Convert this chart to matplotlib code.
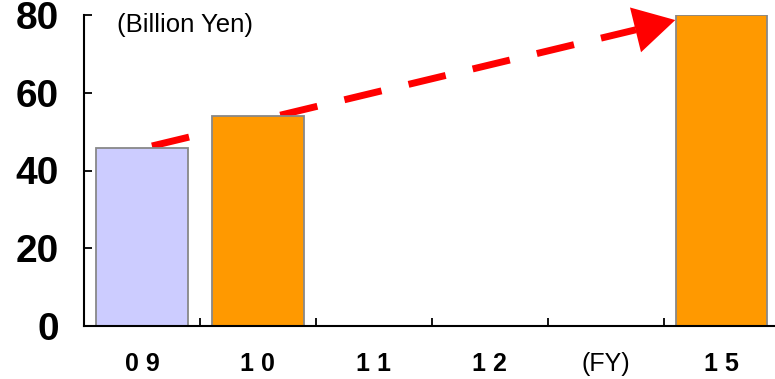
import numpy as np
import matplotlib.pyplot as plt

# data
categories = ['09', '10', '11', '12', '(FY)', '15']
values = [45.7, 54.0, 0, 0, 0, 80.0]
bar_colors = ['#ccccff', '#ff9900', 'none', 'none', 'none', '#ff9900']
yticks = [0, 20, 40, 60, 80]

fig = plt.figure(figsize=(7.75, 3.79), dpi=100)
ax = fig.add_axes([84 / 775, 53 / 379, 691 / 775, 311 / 379])

x = np.arange(len(categories))
for xi, v, c in zip(x, values, bar_colors):
    if v > 0:
        ax.bar(xi, v, width=0.79, color=c, edgecolor='#888888', linewidth=1.3, zorder=4)

ax.set_xlim(-0.5, 5.46)
ax.set_ylim(0, 80)

for s in ['top', 'right']:
    ax.spines[s].set_visible(False)
for s in ['left', 'bottom']:
    ax.spines[s].set_linewidth(1.5)
    ax.spines[s].set_zorder(5)

ax.set_yticks(yticks)
ax.set_yticklabels([str(t) for t in yticks], fontsize=28, fontweight='bold',
                   family='Liberation Sans')
ax.tick_params(axis='y', direction='in', length=6, width=1.3, pad=18)

ax.set_xticks(x)
labels = [' '.join(c) if c[0].isdigit() else c for c in categories]
ax.set_xticklabels(labels, family='Liberation Sans', fontsize=18)
for lab, c in zip(ax.get_xticklabels(), categories):
    if c[0].isdigit():
        lab.set_fontweight('bold')
ax.tick_params(axis='x', which='major', length=0, pad=19)
ax.set_xticks(x[:-1] + 0.5, minor=True)
ax.tick_params(axis='x', which='minor', direction='in', length=6, width=1.3)

ax.text(0.048, 0.968, '(Billion Yen)', transform=ax.transAxes, fontsize=18.5,
        family='Liberation Sans', va='center', ha='left')

# red dashed growth arrow from FY09 to FY15 (drawn behind the bars)
x0, y0 = x[0] + 0.086, values[0] + 0.6
x1, y1 = x[-1] - 0.40, values[-1] - 1.3
xb, yb = x[-1] - 0.74, values[-1] - 3.8
ax.plot([x0, xb], [y0, yb], color='red', lw=5, dashes=(5.5, 4.0),
        solid_capstyle='butt', dash_capstyle='butt', zorder=3, clip_on=False)
ax.annotate('', xy=(x1, y1), xytext=(xb, yb),
            arrowprops=dict(arrowstyle='-|>,head_length=2.95,head_width=1.66',
                            color='red', lw=0, shrinkA=0, shrinkB=0),
            zorder=3, annotation_clip=False)

fig.savefig('out.png', dpi=100)
